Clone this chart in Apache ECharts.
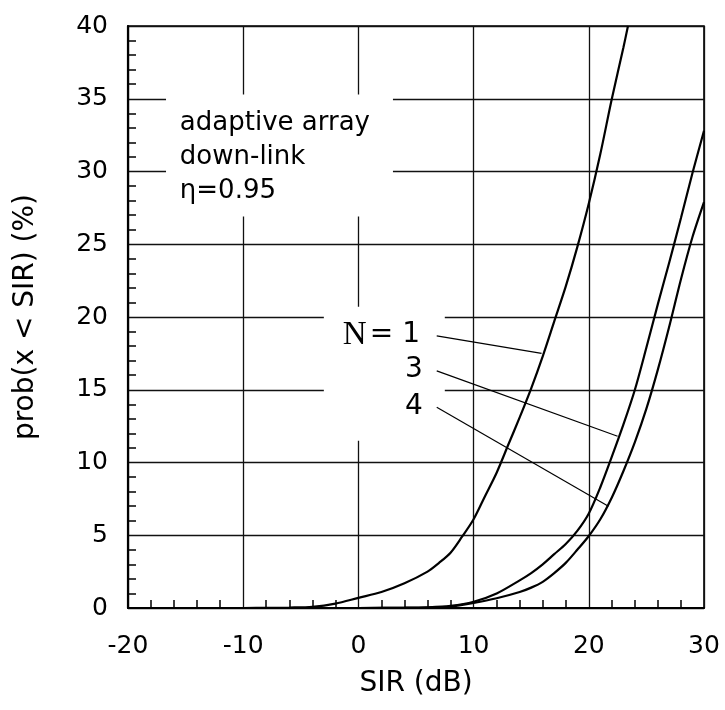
<!DOCTYPE html>
<html><head><meta charset="utf-8">
<script src="https://cdn.jsdelivr.net/npm/echarts@6/dist/echarts.min.js"></script>
<style>html,body{margin:0;padding:0;background:#fff}#c{width:725px;height:710px}</style>
</head><body><div id="c"></div><script>
// ---- data ----
const sirN1 = [-10,-8,-6,-4,-2,0,2,4,6,7,8,9,10,11,12,13,14,15,16,17,18,19,20,21,22,23,23.4];
const probN1 = [0,0.01,0.03,0.08,0.3,0.7,1.1,1.7,2.5,3.1,3.8,4.9,6.1,7.7,9.3,11.2,13.1,15.1,17.3,19.7,22.1,24.8,27.8,31.2,35.0,38.5,40];
const sirN34 = [0,4,6,8,10,12,14,15,16,17,18,19,20,21,22,23,24,25,26,27,28,29,30];
const probN3 = [0,0.02,0.05,0.15,0.43,1.0,1.9,2.4,3.0,3.7,4.4,5.3,6.5,8.3,10.4,12.6,15.0,17.9,20.9,23.8,26.8,29.9,32.8];
const probN4 = [0,0.01,0.03,0.1,0.35,0.67,1.1,1.4,1.8,2.4,3.1,4.0,4.95,6.1,7.6,9.4,11.4,13.7,16.4,19.4,22.6,25.5,27.9];
const xTicks = [-20,-10,0,10,20,30];
const yTicks = [0,5,10,15,20,25,30,35,40];
const noteLines = ['adaptive array','down-link','η=0.95'];
const curveLabels = ['N = 1','3','4'];
// annotation anchors (data coords)
const noteAnchor = [-15.5, 31.0];
const labelAnchors = [[5.35,18.76],[5.6,16.36],[5.6,13.8]];
const leaderLines = [
  [[6.8,18.7],[15.9,17.5]],
  [[6.8,16.3],[22.5,11.8]],
  [[6.8,13.8],[21.7,7.0]]
];
// grid-line gaps around the texts (data coords)
const gridGaps = [
  [[-16.7,26.9],[3,35.3]],
  [[-3,11.5],[7.5,20.7]]
];

const zip = (xs, ys) => xs.map((x,i)=>[x, ys[i]]);
const FONT = 'DejaVu Sans';
const INK = '#000';
const chart = echarts.init(document.getElementById('c'), null, {renderer:'canvas'});

const curveStyle = {color:INK, width:2.2};
const series = [
  {type:'line', name:'mask', data:[], silent:true, z:1,
   markArea:{silent:true, itemStyle:{color:'#fff', opacity:1},
     data: gridGaps.map(g=>[{coord:g[0]},{coord:g[1]}])}},
  {type:'line', name:'N=1', data:zip(sirN1, probN1), showSymbol:false, smooth:0.3, lineStyle:curveStyle, z:3},
  {type:'line', name:'N=3', data:zip(sirN34, probN3), showSymbol:false, smooth:0.3, lineStyle:curveStyle, z:3},
  {type:'line', name:'N=4', data:zip(sirN34, probN4), showSymbol:false, smooth:0.3, lineStyle:curveStyle, z:3}
];
leaderLines.forEach((seg,i)=>series.push({type:'line', name:'leader'+i, data:seg, showSymbol:false,
  lineStyle:{color:INK, width:1.2}, z:3, silent:true}));
const lbl = (extra)=>Object.assign({show:true, position:[0,0], verticalAlign:'middle', color:INK, opacity:1}, extra);
series.push({type:'scatter', name:'notes', symbolSize:0, z:5, silent:true,
  itemStyle:{opacity:1},
  data:[
    {value:noteAnchor, label:lbl({align:'left', formatter:noteLines.join('\n'), fontFamily:FONT, fontSize:26, lineHeight:34})},
    {value:labelAnchors[0], label:lbl({align:'right', formatter:'{s|N} {t|= 1}',
      rich:{s:{fontFamily:'Liberation Serif', fontSize:33, color:INK}, t:{fontFamily:FONT, fontSize:28, color:INK}}})},
    {value:labelAnchors[1], label:lbl({align:'right', formatter:curveLabels[1], fontFamily:FONT, fontSize:28})},
    {value:labelAnchors[2], label:lbl({align:'right', formatter:curveLabels[2], fontFamily:FONT, fontSize:28})}
  ]});

chart.setOption({
  animation:false,
  backgroundColor:'#fff',
  grid:{left:128, right:21, top:26, bottom:102, show:true, borderColor:INK, borderWidth:1.6},
  xAxis:{type:'value', min:xTicks[0], max:xTicks[xTicks.length-1], interval:10,
    name:'SIR (dB)', nameLocation:'middle', nameGap:62,
    nameTextStyle:{fontFamily:FONT, fontSize:28, color:INK},
    axisLine:{onZero:false, lineStyle:{color:INK, width:2.2}},
    axisTick:{show:false, inside:true},
    minorTick:{show:true, splitNumber:5, length:8, lineStyle:{color:INK, width:1.5}},
    splitLine:{show:true, lineStyle:{color:'#111', width:1.3}},
    axisLabel:{fontFamily:FONT, fontSize:25, color:INK, margin:26}},
  yAxis:{type:'value', min:yTicks[0], max:yTicks[yTicks.length-1], interval:5,
    name:'prob(x < SIR) (%)', nameLocation:'middle', nameGap:88,
    nameTextStyle:{fontFamily:FONT, fontSize:28, color:INK},
    axisLine:{onZero:false, lineStyle:{color:INK, width:2.2}},
    axisTick:{show:false, inside:true},
    minorTick:{show:true, splitNumber:5, length:8, lineStyle:{color:INK, width:1.5}},
    splitLine:{show:true, lineStyle:{color:'#111', width:1.3}},
    axisLabel:{fontFamily:FONT, fontSize:25, color:INK, margin:20}},
  series: series
});
</script></body></html>
